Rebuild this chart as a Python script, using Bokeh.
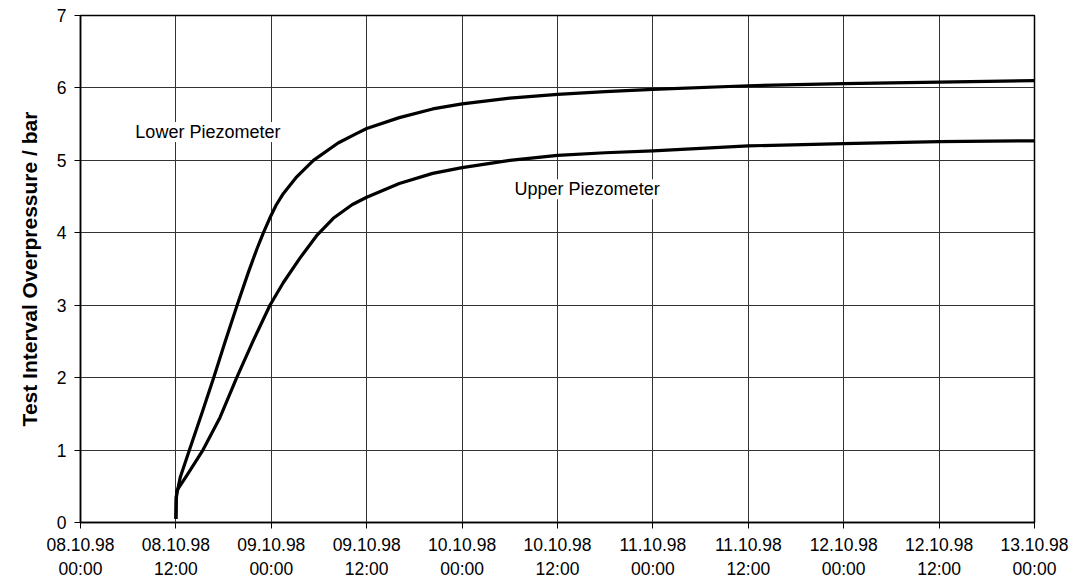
from bokeh.plotting import figure
from bokeh.models import Range1d, Label, FixedTicker
from bokeh.embed import file_html
from bokeh.resources import INLINE

# hours since 08.10.98 00:00 ; test starts at 12:00 (hour 12)
start_hour = 12
lower_t = [0, 0.03, 0.54, 1.7, 3.3, 4.75, 6.2, 7.7, 9.1, 10.2, 11.0, 11.8, 12.6, 13.5, 15.1, 17.3, 20.4,
           22.7, 24, 28.1, 32.3, 36, 42, 48, 54, 60, 72, 84, 96, 108]
lower_p = [0.05, 0.35, 0.62, 1.0, 1.52, 2.0, 2.5, 3.0, 3.45, 3.78, 4.0, 4.2, 4.38, 4.54, 4.76, 5.0, 5.24,
           5.37, 5.44, 5.59, 5.71, 5.78, 5.86, 5.91, 5.95, 5.98, 6.03, 6.06, 6.08, 6.10]
upper_t = [0, 0.05, 0.12, 1.38, 3.4, 5.55, 7.65, 9.73, 11.83, 13.5, 15.6, 17.7, 19.8, 22.2, 24,
           28.1, 32.3, 36, 42, 48, 54, 60, 72, 84, 96, 108]
upper_p = [0.05, 0.3, 0.44, 0.65, 1.0, 1.45, 2.0, 2.51, 3.0, 3.31, 3.65, 3.96, 4.2, 4.39, 4.49,
           4.68, 4.82, 4.90, 5.0, 5.07, 5.105, 5.13, 5.20, 5.23, 5.26, 5.27]

tick_hours = [0, 12, 24, 36, 48, 60, 72, 84, 96, 108, 120]
tick_labels = ["08.10.98\n00:00", "08.10.98\n12:00", "09.10.98\n00:00", "09.10.98\n12:00",
               "10.10.98\n00:00", "10.10.98\n12:00", "11.10.98\n00:00", "11.10.98\n12:00",
               "12.10.98\n00:00", "12.10.98\n12:00", "13.10.98\n00:00"]
y_ticks = [0, 1, 2, 3, 4, 5, 6, 7]
y_title = "Test Interval Overpressure / bar"

p = figure(width=1074, height=581, output_backend="svg", toolbar_location=None,
           x_range=Range1d(0, 120), y_range=Range1d(0, 7),
           min_border_left=80, min_border_right=40, min_border_top=15, min_border_bottom=59)
p.background_fill_color = "white"
p.border_fill_color = "white"
p.outline_line_color = "black"
p.outline_line_width = 1.5

for ax in (p.xaxis[0], p.yaxis[0]):
    ax.major_label_text_font = "Liberation Sans"
    ax.major_label_text_font_size = "17.5px"
    ax.major_label_text_color = "black"
    ax.axis_line_color = "black"
    ax.axis_line_width = 1.5
    ax.major_tick_line_color = "black"
    ax.major_tick_out = 6
    ax.major_tick_in = 0
    ax.minor_tick_line_color = None

p.xaxis.ticker = FixedTicker(ticks=tick_hours)
p.xaxis.major_label_overrides = {h: l for h, l in zip(tick_hours, tick_labels)}
p.xaxis.major_label_standoff = 6
p.yaxis.ticker = FixedTicker(ticks=y_ticks)
p.yaxis.major_label_standoff = 8
p.yaxis.axis_label = y_title
p.yaxis.axis_label_text_font = "Liberation Sans"
p.yaxis.axis_label_text_font_size = "21px"
p.yaxis.axis_label_text_font_style = "bold"
p.yaxis.axis_label_text_color = "black"
p.yaxis.axis_label_standoff = 13

p.xgrid.grid_line_color = "#333333"
p.ygrid.grid_line_color = "#333333"
p.xgrid.grid_line_width = 1
p.ygrid.grid_line_width = 1

p.line([start_hour + t for t in lower_t], lower_p, line_color="black", line_width=3.2, line_join="round")
p.line([start_hour + t for t in upper_t], upper_p, line_color="black", line_width=3.2, line_join="round")

for txt, x, y in [("Lower Piezometer", 6.9, 5.39), ("Upper Piezometer", 54.6, 4.6)]:
    p.add_layout(Label(x=x, y=y, text=txt, text_font="Liberation Sans", text_font_size="18px",
                       text_color="black", text_baseline="middle", background_fill_color="white"))

open("out.html", "w").write(file_html(p, INLINE))
